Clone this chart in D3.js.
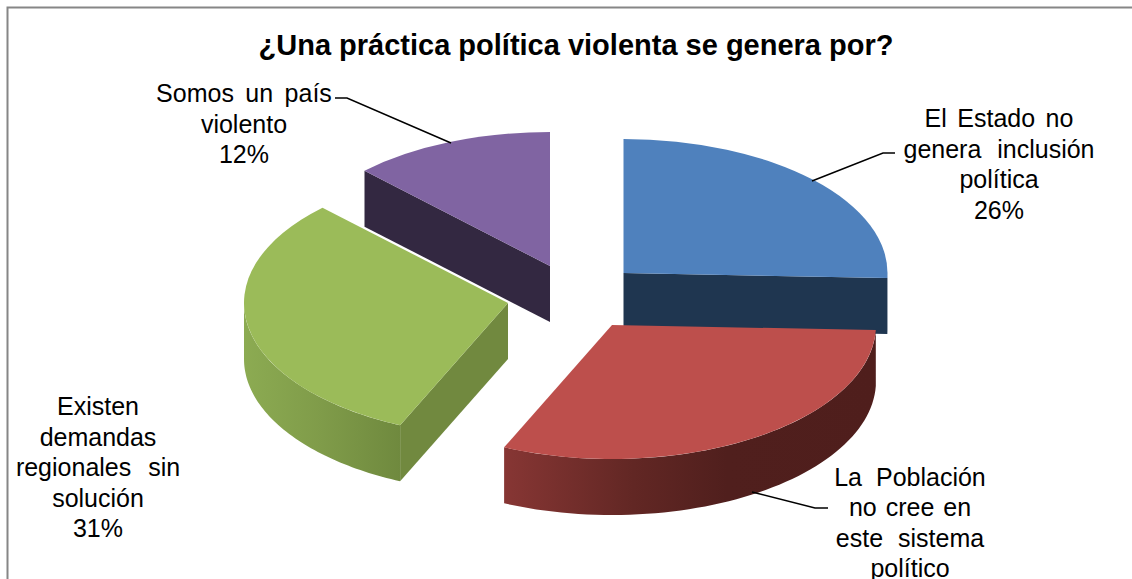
<!DOCTYPE html>
<html><head><meta charset="utf-8">
<script src="https://cdn.jsdelivr.net/npm/d3@7/dist/d3.min.js"></script>
<style>
html,body{margin:0;padding:0;background:#fff;overflow:hidden}
svg{display:block}
text{font-family:"Liberation Sans",Arial,sans-serif;fill:#000}
</style></head><body>
<svg id="c" width="1132" height="579"></svg>
<script>
const titleText = "¿Una práctica política violenta se genera por?";
const categories = ["El Estado no genera inclusión política","La Población no cree en este sistema político","Existen demandas regionales sin solución","Somos un país violento"];
const values = [25.6,31.1,30.9,12.4];

const labelLines = [
  ["El Estado no","genera  inclusión","política","26%"],
  ["La Población","no cree en","este sistema","político"],
  ["Existen","demandas","regionales  sin","solución","31%"],
  ["Somos un país","violento","12%"]
];
const labelSpacing = [[3.5,1,0,0],[7,2,8,0],[0,0,1.5,0,0],[4.5,0,0]];
const labelAnchors = [
  {x:999,y:127},{x:910,y:485.5},{x:98,y:415},{x:244,y:102}
];
const leaders = [
  [[895,153],[883,153],[812,181]],
  [[828,508],[815,508],[752,492]],
  null,
  [[335,98],[347,98],[451,143]]
];
const centers = [{x:623.5,y:273},{x:612,y:325},{x:508,y:303},{x:550,y:266}];
const rx = 264, ry = 134, depth = 56;
const topColors = ["#4f81bd","#bd4f4c","#9bbb59","#8064a2"];
const cutColors = ["#1f3650",null,"#71893f","#332841"];

const svg = d3.select("#c");
const defs = svg.append("defs");
function grad(id,x1,x2,stops){
  const g = defs.append("linearGradient").attr("id",id).attr("gradientUnits","userSpaceOnUse")
    .attr("x1",x1).attr("x2",x2).attr("y1",0).attr("y2",0);
  stops.forEach(s=>g.append("stop").attr("offset",s[0]).attr("stop-color",s[1]));
}
grad("wall1",503,876,[[0,"#873634"],[0.35,"#622724"],[0.6,"#501f1d"],[1,"#4f1e1c"]]);
grad("wall2",244,402,[[0,"#8cab52"],[0.5,"#7f9b49"],[1,"#6f893e"]]);
const wallFill = ["#1f3650","url(#wall1)","url(#wall2)","#332841"];

// frame
svg.append("path").attr("d","M7.5,579V7.5H1132").attr("fill","none").attr("stroke","#868686").attr("stroke-width",2);

const arcs = d3.pie().sort(null)(values);
const arcGen = d3.arc().innerRadius(0).outerRadius(rx);
const line = d3.line();
const pt = (c,a,dy=0)=>[c.x+rx*Math.sin(a), c.y-ry*Math.cos(a)+dy];

const order = [3,0,2,1];
order.forEach(i=>{
  const a = arcs[i], c = centers[i];
  const g = svg.append("g");
  // outer wall: only the part of the rim that faces the viewer
  const lo = Math.max(a.startAngle,Math.PI/2), hi = Math.min(a.endAngle,Math.PI*1.5);
  if(hi>lo){
    const steps = d3.range(0,61).map(k=>lo+(hi-lo)*k/60);
    const rim = steps.map(t=>pt(c,t)).concat(steps.slice().reverse().map(t=>pt(c,t,depth)));
    g.append("path").attr("d",line(rim)+"Z").attr("fill",wallFill[i]);
  }
  // visible cut face
  if(cutColors[i]){
    const edge = (i===0)? a.endAngle : a.startAngle;
    const p = pt(c,edge);
    g.append("path").attr("d",line([[c.x,c.y],p,[p[0],p[1]+depth],[c.x,c.y+depth]])+"Z").attr("fill",cutColors[i]);
  }
  // top face
  g.append("path").attr("d",arcGen(a))
    .attr("transform",`translate(${c.x},${c.y}) scale(1,${ry/rx})`)
    .attr("fill",topColors[i]);
});

// leader lines
leaders.forEach(l=>{ if(l) svg.append("path").attr("d",line(l)).attr("fill","none").attr("stroke","#000").attr("stroke-width",1.5); });

// labels
labelLines.forEach((lines,i)=>{
  const t = svg.append("text").attr("text-anchor","middle").attr("font-size",25);
  lines.forEach((s,k)=>t.append("tspan").attr("x",labelAnchors[i].x).attr("y",labelAnchors[i].y+k*30.6)
    .style("white-space","pre").style("word-spacing",labelSpacing[i][k]+"px").text(s));
});
svg.append("text").attr("x",576).attr("y",55).attr("text-anchor","middle").attr("font-size",29).attr("font-weight","bold").text(titleText);
</script>
</body></html>
